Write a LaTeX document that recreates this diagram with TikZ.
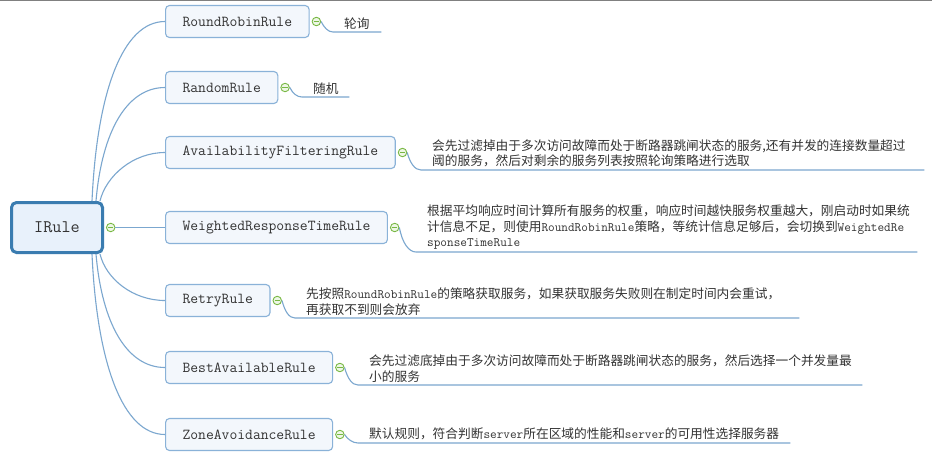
\documentclass[tikz,border=0pt]{standalone}
\usepackage{fontspec}
\newfontfamily\cjk{Noto Sans CJK SC}
\usepackage{tikz}
\usetikzlibrary{positioning}
\definecolor{RootBorder}{RGB}{58, 124, 176}
\definecolor{RootFill}{RGB}{232, 241, 251}
\definecolor{RuleBorder}{RGB}{138, 178, 216}
\definecolor{RuleFill}{RGB}{243, 247, 252}
\definecolor{BranchColor}{RGB}{123, 167, 207}
\definecolor{ToggleColor}{RGB}{120, 184, 67}
\definecolor{ToggleFill}{RGB}{238, 247, 230}
\definecolor{TextColor}{RGB}{51, 51, 51}
\newcommand{\halfw}[1]{{\fontsize{12.9}{15.3}\selectfont\ttfamily #1}}

\begin{document}
\begin{tikzpicture}[x=1pt, y=-1pt,
  root/.style={draw=RootBorder, line width=3pt, fill=RootFill, rounded corners=5pt, minimum width=91pt, minimum height=50pt, text=TextColor, font=\ttfamily\fontsize{17.7}{20}\selectfont},
  rulebox/.style={draw=RuleBorder, line width=1.1pt, fill=RuleFill, rounded corners=4pt, anchor=west, minimum height=32pt, inner xsep=17pt, text=TextColor, font=\ttfamily\fontsize{15.2}{18}\selectfont},
  toggle/.style={draw=ToggleColor, fill=ToggleFill, circle, line width=0.9pt, minimum size=8.5pt, inner sep=0pt},
  minusbar/.style={draw=ToggleColor, line width=1pt},
  branch/.style={draw=BranchColor, line width=1.1pt},
  leaf/.style={anchor=south west, align=left, inner xsep=11pt, inner ysep=2.5pt, text=TextColor, font=\cjk\fontsize{12.7}{15.3}\selectfont}]

\fill[white] (0,0) rectangle (932,459);
\useasboundingbox (0,0) rectangle (932,459);
\draw[line width=1.2pt, gray] (0,0.6) -- (932,0.6);

\node[root] (irule) at (57,227.5) {IRule};

\node[rulebox] (rr)     at (165,21.5)  {RoundRobinRule};
\node[rulebox] (rand)   at (165,87.5)  {RandomRule};
\node[rulebox] (avail)  at (165,152.5) {AvailabilityFilteringRule};
\node[rulebox] (weight) at (165,227.5) {WeightedResponseTimeRule};
\node[rulebox] (retry)  at (165,300.5) {RetryRule};
\node[rulebox] (best)   at (165,367.5) {BestAvailableRule};
\node[rulebox] (zone)   at (165,434.5) {ZoneAvoidanceRule};

\foreach \n in {irule,rr,rand,avail,weight,retry,best,zone}{
  \node[toggle, right=2pt of \n] (\n-t) {};
  \draw[minusbar] ([xshift=2pt]\n-t.west) -- ([xshift=-2pt]\n-t.east);
}

\node[leaf, text width=26pt]  (rr-l)     at (333,32)  {轮询};
\node[leaf, text width=25pt]  (rand-l)   at (302,97)  {随机};
\node[leaf, text width=481pt] (avail-l)  at (421,170) {会先过滤掉由于多次访问故障而处于断路器跳闸状态的服务,还有并发的连接数量超过\\阈的服务，然后对剩余的服务列表按照轮询策略进行选取};
\node[leaf, text width=479pt] (weight-l) at (416,252) {根据平均响应时间计算所有服务的权重，响应时间越快服务权重越大，刚启动时如果统\\计信息不足，则使用\halfw{RoundRobinRule}策略，等统计信息足够后，会切换到\halfw{WeightedRe}\\\halfw{sponseTimeRule}};
\node[leaf, text width=482pt] (retry-l)  at (295,318) {先按照\halfw{RoundRobinRule}的策略获取服务，如果获取服务失败则在制定时间内会重试，\\再获取不到则会放弃};
\node[leaf, text width=482pt] (best-l)   at (358,385) {会先过滤底掉由于多次访问故障而处于断路器跳闸状态的服务，然后选择一个并发量最\\小的服务};
\node[leaf, text width=410pt] (zone-l)   at (358,443) {默认规则，符合判断\halfw{server}所在区域的性能和\halfw{server}的可用性选择服务器};

\draw[branch] ([xshift=-12pt]irule.north east) .. controls +(5,-110) and +(-42,0) .. (rr.west);
\draw[branch] ([xshift=-8pt]irule.north east) .. controls +(6,-70) and +(-38,0) .. (rand.west);
\draw[branch] ([xshift=-4pt]irule.north east) .. controls +(6,-25) and +(-32,0) .. (avail.west);
\draw[branch] (irule-t) -- (weight);
\draw[branch] ([xshift=-4pt]irule.south east) .. controls +(6,25) and +(-32,0) .. (retry.west);
\draw[branch] ([xshift=-8pt]irule.south east) .. controls +(6,70) and +(-38,0) .. (best.west);
\draw[branch] ([xshift=-12pt]irule.south east) .. controls +(5,110) and +(-42,0) .. (zone.west);

\draw[branch] (rr-t.east) .. controls +(3,6) and +(-5,0) .. (rr-l.south west) -- (rr-l.south east);
\draw[branch] (rand-t.east) .. controls +(3,6) and +(-5,0) .. (rand-l.south west) -- (rand-l.south east);
\draw[branch] (avail-t.east) .. controls +(3,11) and +(-6,0) .. (avail-l.south west) -- (avail-l.south east);
\draw[branch] (weight-t.east) .. controls +(3,16) and +(-7,0) .. (weight-l.south west) -- (weight-l.south east);
\draw[branch] (retry-t.east) .. controls +(3,11) and +(-6,0) .. (retry-l.south west) -- (retry-l.south east);
\draw[branch] (best-t.east) .. controls +(3,11) and +(-6,0) .. (best-l.south west) -- (best-l.south east);
\draw[branch] (zone-t.east) .. controls +(3,5) and +(-5,0) .. (zone-l.south west) -- (zone-l.south east);

\end{tikzpicture}
\end{document}
